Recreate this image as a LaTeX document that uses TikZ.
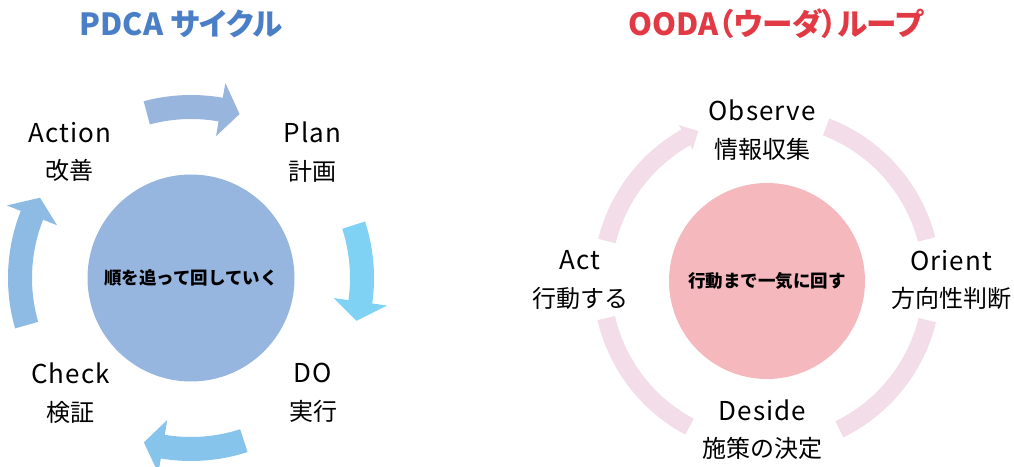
\documentclass[tikz,border=0pt]{standalone}
\usepackage{fontspec}
\setmainfont{Noto Sans CJK JP}
\newfontfamily\latinfont[LetterSpace=4]{Noto Sans CJK JP}

\definecolor{pdcablue}{HTML}{4A7FC8}
\definecolor{oodared}{HTML}{E23A45}
\definecolor{pdcafill}{HTML}{97B6DF}
\definecolor{pfeilA}{HTML}{98B5DE}
\definecolor{pfeilB}{HTML}{80D2F5}
\definecolor{pfeilC}{HTML}{86C4EC}
\definecolor{pfeilD}{HTML}{8EBBE4}
\definecolor{oodafill}{HTML}{F4B8BD}
\definecolor{ringpink}{HTML}{F2DDE8}

% Blockpfeil im Uhrzeigersinn: Mittelpunkt, Startwinkel, Spitzenwinkel, Farbe
\newcommand{\kreispfeil}[4]{%
  \fill[#4, shift={(#1)}] (#2:183) arc[start angle=#2, end angle={#3+6.5}, radius=183]
    -- ({#3+6.5}:198) -- (#3:171) -- ({#3+6.5}:144) -- ({#3+6.5}:159)
    arc[start angle={#3+6.5}, end angle=#2, radius=159] -- cycle;}

\tikzset{
  titel/.style={font=\fontsize{30.5}{34}\selectfont\bfseries\addfontfeature{RawFeature=+palt}},
  schritt/.style={align=center, font=\fontsize{24}{37.5}\selectfont},
  mitte/.style={circle, minimum size=#1, inner sep=0pt, font=\fontsize{17.5}{20}\selectfont\bfseries},
}

\begin{document}
\begin{tikzpicture}[x=1pt, y=1pt]
  \useasboundingbox (0, 0) rectangle (1014, 466);

  % Titel
  \node[titel, text=pdcablue] (pdcatitel) at (181, 442) {PDCA サイクル};
  \node[titel, text=oodared]  (oodatitel) at (776, 442) {OODA（ウーダ）ループ};

  % PDCA Kreis
  \coordinate (p) at (191, 188);
  \node[mitte=207, fill=pdcafill] (pdca) at (p) {順を追って回していく};

  % Pfeile
  \kreispfeil{p}{105}{73.5}{pfeilA}
  \kreispfeil{p}{18}{-14.5}{pfeilB}
  \kreispfeil{p}{-72}{-106}{pfeilC}
  \kreispfeil{p}{196}{152}{pfeilD}

  % Schritte
  \node[schritt] (plan)   at (312.5, 314) {{\latinfont\fontsize{26}{26}\selectfont Plan}\\計画};
  \node[schritt] (do)     at (313, 73)    {{\latinfont\fontsize{26}{26}\selectfont DO}\\実行};
  \node[schritt] (check)  at (70.5, 73)   {{\latinfont\fontsize{26}{26}\selectfont Check}\\検証};
  \node[schritt] (action) at (70, 314)    {{\latinfont\fontsize{26}{26}\selectfont Action}\\改善};

  % OODA Kreis
  \coordinate (o) at (767, 185);
  \node[mitte=196, fill=oodafill] (ooda) at (o) {行動まで一気に回す};

  % Ring
  \begin{scope}[shift={(o)}]
    \fill[ringpink] (69:174) arc[start angle=69, end angle=14.6, radius=174]
      -- (14.6:156) arc[start angle=14.6, end angle=69, radius=156] -- cycle;
    \fill[ringpink] (-13.7:174) arc[start angle=-13.7, end angle=-64, radius=174]
      -- (-64:156) arc[start angle=-64, end angle=-13.7, radius=156] -- cycle;
    \fill[ringpink] (-118:174) arc[start angle=-118, end angle=-167, radius=174]
      -- (-167:156) arc[start angle=-167, end angle=-118, radius=156] -- cycle;
    \fill[ringpink] (166:174) arc[start angle=166, end angle=119.5, radius=174]
      -- (119.5:179) -- (114.6:165) -- (119.5:151) -- (119.5:156)
      arc[start angle=119.5, end angle=166, radius=156] -- cycle;
  \end{scope}

  % Schritte
  \node[schritt] (observe) at (762, 336)   {{\latinfont\fontsize{26}{26}\selectfont Observe}\\情報収集};
  \node[schritt] (orient)  at (951, 186)   {{\latinfont\fontsize{26}{26}\selectfont Orient}\\方向性判断};
  \node[schritt] (deside)  at (762.5, 36.5) {{\latinfont\fontsize{26}{26}\selectfont Deside}\\施策の決定};
  \node[schritt] (act)     at (580, 186)   {{\latinfont\fontsize{26}{26}\selectfont Act}\\行動する};
\end{tikzpicture}
\end{document}
